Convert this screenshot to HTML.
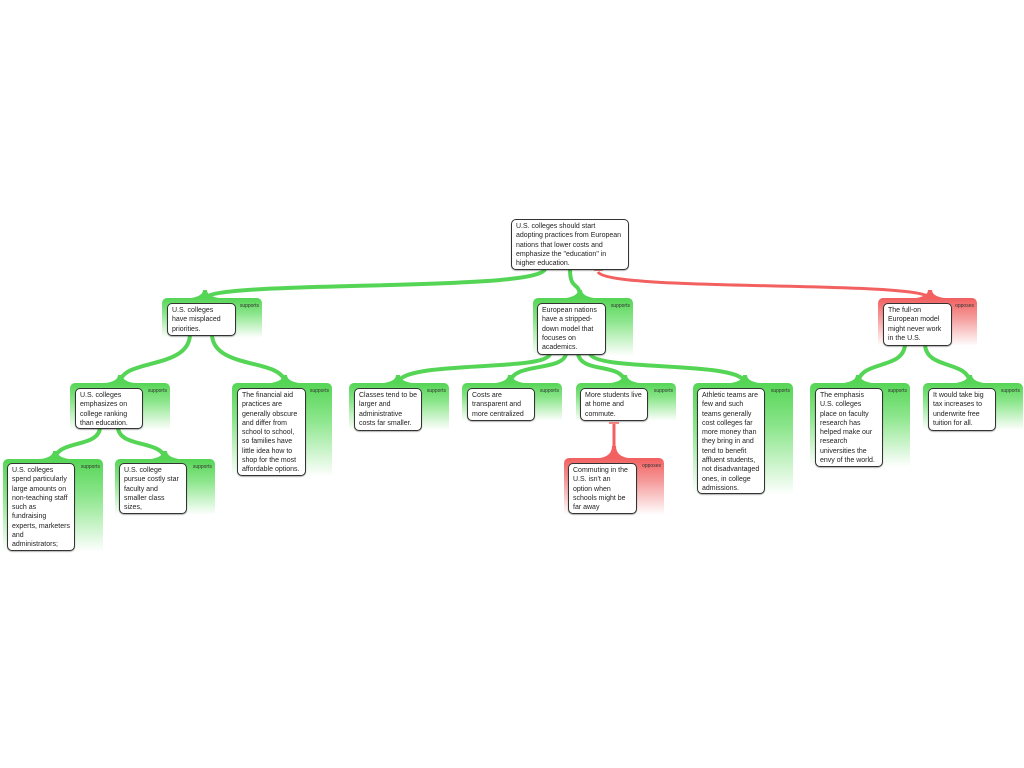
<!DOCTYPE html>
<html><head><meta charset="utf-8"><style>
body{margin:0;width:1024px;height:768px;background:#fff;position:relative;overflow:hidden;font-family:"Liberation Sans",sans-serif}
.c{position:absolute;border-radius:5px 5px 0 0}
.g{background:linear-gradient(to bottom,#55d555 0%,#8de68d 40%,rgba(255,255,255,0) 100%)}
.r{background:linear-gradient(to bottom,#f26060 0%,#f59a9a 40%,rgba(255,255,255,0) 100%)}
.l{position:absolute;top:5px;right:3px;font-size:5px;color:#333}
.b{position:absolute;background:#fff;border:1.5px solid #333;border-radius:5px;font-size:7px;line-height:9.3px;color:#222;padding:2px 4px;box-sizing:border-box;box-shadow:0 1px 1px rgba(0,0,0,.3);white-space:nowrap;overflow:hidden}
svg{position:absolute;left:0;top:0}
</style></head><body>
<svg width="1024" height="768">
<g fill="none" stroke="#55d555" stroke-width="4">
<path d="M545,269 C540,292 215,280 205,298"/>
<path d="M570,269 C570,292 580,280 580,298"/>
<path d="M190,335 C188,370 122,358 120,383"/>
<path d="M212,335 C214,370 283,358 285,383"/>
<path d="M550,354 C545,372 402,360 398,383"/>
<path d="M566,354 C562,372 512,362 510,383"/>
<path d="M578,354 C582,374 623,362 625,383"/>
<path d="M590,354 C598,372 742,360 745,383"/>
<path d="M905,345 C903,370 860,360 858,383"/>
<path d="M925,345 C927,370 968,360 970,383"/>
<path d="M100,428 C98,448 57,440 55,459"/>
<path d="M118,428 C120,448 163,440 165,459"/>
</g>
<g fill="none" stroke="#f26060" stroke-width="3">
<path d="M598,272 C610,292 920,280 930,298"/>
<path d="M614,424 L614,458"/>
</g>
<g stroke="#f26060" stroke-width="1.5"><path d="M594,270 L603,270"/><path d="M609,423 L619,423"/></g>
<g fill="#55d555">
<path d="M191,298 Q203,296 203,290 L207,290 Q207,296 219,298Z"/>
<path d="M566,298 Q578,296 578,290 L582,290 Q582,296 594,298Z"/>
<path d="M106,383 Q118,381 118,375 L122,375 Q122,381 134,383Z"/>
<path d="M271,383 Q283,381 283,375 L287,375 Q287,381 299,383Z"/>
<path d="M384,383 Q396,381 396,375 L400,375 Q400,381 412,383Z"/>
<path d="M496,383 Q508,381 508,375 L512,375 Q512,381 524,383Z"/>
<path d="M611,383 Q623,381 623,375 L627,375 Q627,381 639,383Z"/>
<path d="M731,383 Q743,381 743,375 L747,375 Q747,381 759,383Z"/>
<path d="M844,383 Q856,381 856,375 L860,375 Q860,381 872,383Z"/>
<path d="M956,383 Q968,381 968,375 L972,375 Q972,381 984,383Z"/>
<path d="M41,459 Q53,457 53,451 L57,451 Q57,457 69,459Z"/>
<path d="M151,459 Q163,457 163,451 L167,451 Q167,457 179,459Z"/>
</g>
<g fill="#f26060">
<path d="M916,298 Q928,296 928,290 L932,290 Q932,296 944,298Z"/>
<path d="M600,458 Q612,456 612,446 L616,446 Q616,456 628,458Z"/>
</g>
</svg>

<div class="b" style="left:511px;top:219px;width:118px;height:51px">U.S. colleges should start<br>adopting practices from European<br>nations that lower costs and<br>emphasize the "education" in<br>higher education.</div>

<div class="c g" style="left:162px;top:298px;width:100px;height:40px"><span class="l">supports</span></div>
<div class="b" style="left:167px;top:303px;width:69px;height:33px">U.S. colleges<br>have misplaced<br>priorities.</div>

<div class="c g" style="left:533px;top:298px;width:100px;height:58px"><span class="l">supports</span></div>
<div class="b" style="left:537px;top:303px;width:69px;height:52px">European nations<br>have a stripped-<br>down model that<br>focuses on<br>academics.</div>

<div class="c r" style="left:878px;top:298px;width:99px;height:48px"><span class="l">opposes</span></div>
<div class="b" style="left:883px;top:303px;width:69px;height:43px">The full-on<br>European model<br>might never work<br>in the U.S.</div>

<div class="c g" style="left:70px;top:383px;width:100px;height:47px"><span class="l">supports</span></div>
<div class="b" style="left:75px;top:388px;width:68px;height:41px">U.S. colleges<br>emphasizes on<br>college ranking<br>than education.</div>

<div class="c g" style="left:232px;top:383px;width:100px;height:94px"><span class="l">supports</span></div>
<div class="b" style="left:237px;top:388px;width:69px;height:88px">The financial aid<br>practices are<br>generally obscure<br>and differ from<br>school to school,<br>so families have<br>little idea how to<br>shop for the most<br>affordable options.</div>

<div class="c g" style="left:349px;top:383px;width:100px;height:47px"><span class="l">supports</span></div>
<div class="b" style="left:354px;top:388px;width:68px;height:43px">Classes tend to be<br>larger and<br>administrative<br>costs far smaller.</div>

<div class="c g" style="left:462px;top:383px;width:100px;height:38px"><span class="l">supports</span></div>
<div class="b" style="left:467px;top:388px;width:68px;height:33px">Costs are<br>transparent and<br>more centralized</div>

<div class="c g" style="left:576px;top:383px;width:100px;height:38px"><span class="l">supports</span></div>
<div class="b" style="left:580px;top:388px;width:68px;height:33px">More students live<br>at home and<br>commute.</div>

<div class="c g" style="left:693px;top:383px;width:100px;height:112px"><span class="l">supports</span></div>
<div class="b" style="left:697px;top:388px;width:68px;height:106px">Athletic teams are<br>few and such<br>teams generally<br>cost colleges far<br>more money than<br>they bring in and<br>tend to benefit<br>affluent students,<br>not disadvantaged<br>ones, in college<br>admissions.</div>

<div class="c g" style="left:810px;top:383px;width:100px;height:84px"><span class="l">supports</span></div>
<div class="b" style="left:815px;top:388px;width:68px;height:79px">The emphasis<br>U.S. colleges<br>place on faculty<br>research has<br>helped make our<br>research<br>universities the<br>envy of the world.</div>

<div class="c g" style="left:923px;top:383px;width:100px;height:47px"><span class="l">supports</span></div>
<div class="b" style="left:928px;top:388px;width:68px;height:43px">It would take big<br>tax increases to<br>underwrite free<br>tuition for all.</div>

<div class="c g" style="left:3px;top:459px;width:100px;height:93px"><span class="l">supports</span></div>
<div class="b" style="left:7px;top:463px;width:68px;height:88px">U.S. colleges<br>spend particularly<br>large amounts on<br>non-teaching staff<br>such as<br>fundraising<br>experts, marketers<br>and<br>administrators;</div>

<div class="c g" style="left:115px;top:459px;width:100px;height:56px"><span class="l">supports</span></div>
<div class="b" style="left:119px;top:463px;width:68px;height:51px">U.S. college<br>pursue costly star<br>faculty and<br>smaller class<br>sizes,</div>

<div class="c r" style="left:564px;top:458px;width:100px;height:57px"><span class="l">opposes</span></div>
<div class="b" style="left:568px;top:463px;width:69px;height:51px">Commuting in the<br>U.S. isn't an<br>option when<br>schools might be<br>far away</div>
</body></html>
